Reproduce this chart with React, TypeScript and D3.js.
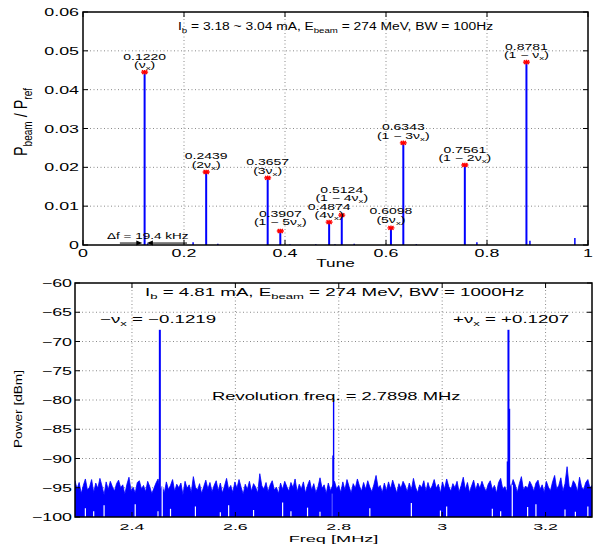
import React from 'react';
import * as d3 from 'd3';

const FONT = '"Liberation Sans", Arial, Helvetica, sans-serif';
const BLUE = '#0000ff';

// ---------- top panel data ----------
const topXTicks = [0, 0.2, 0.4, 0.6, 0.8, 1];
const topXTickLabels = ['0', '0.2', '0.4', '0.6', '0.8', '1'];
const topYTicks = [0, 0.01, 0.02, 0.03, 0.04, 0.05, 0.06];
const topYTickLabels = ['0', '0.01', '0.02', '0.03', '0.04', '0.05', '0.06'];

const peakTunes = [0.1220, 0.2439, 0.3657, 0.3907, 0.4874, 0.5124, 0.6098, 0.6343, 0.7561, 0.8781];
const peakAmps = [0.0445, 0.0188, 0.0173, 0.0036, 0.0059, 0.0077, 0.0044, 0.0263, 0.0206, 0.0471];
const peakOrders = ['', '2', '3', '1 − 5', '4', '1 − 4', '5', '1 − 3', '1 − 2', '1 − '];
const peakLabelLift = [0, 0, 0, 2, 0, 10, 1, 0, 0, 0];

const minorTunes = [0.128, 0.218, 0.267, 0.41, 0.461, 0.499, 0.537, 0.66, 0.780, 0.885, 0.974];
const minorAmps = [0.0004, 0.0007, 0.0003, 0.0002, 0.0002, 0.0002, 0.0003, 0.0002, 0.0007, 0.0011, 0.0018];

const dfArrowLeft = [0.073, 0.1175];
const dfArrowRight = [0.206, 0.1265];
const dfArrowLevel = 0.0005;

// ---------- bottom panel data ----------
const freqRange = [2.2898, 3.2898];
const botXTicks = [2.4, 2.6, 2.8, 3, 3.2];
const botXTickLabels = ['2.4', '2.6', '2.8', '3', '3.2'];
const botYTicks = [-100, -95, -90, -85, -80, -75, -70, -65, -60];
const botYTickLabels = ['−100', '−95', '−90', '−85', '−80', '−75', '−70', '−65', '−60'];

// noise-floor envelope (dBm), one value per sweep bin across the span
const noiseTop = [
  -93.8, -95.2, -94.1, -96.0, -94.6, -93.5, -95.4, -94.9, -93.6, -95.8, -94.2, -95.1, -93.4, -94.7, -96.2, -94.0, -95.3, -93.9, -94.8, -95.6, -94.3, -93.7, -95.0, -94.5, -96.1,
  -94.4, -93.2, -95.5, -94.9, -95.9, -94.1, -93.8, -95.2, -94.6, -95.7, -93.9, -94.8, -96.0, -95.1, -94.2, -93.5, -95.4, -94.7, -95.9, -94.0, -95.3, -94.6, -93.6, -95.6, -94.4,
  -95.0, -94.2, -96.2, -93.9, -95.1, -94.5, -95.8, -93.1, -94.9, -95.4, -94.3, -96.0, -94.8, -93.7, -95.2, -94.1, -95.7, -94.6, -93.8, -95.5, -94.2, -95.9, -94.7, -93.4, -95.3,
  -94.6, -95.8, -94.0, -95.1, -93.6, -94.9, -96.1, -94.4, -95.3, -93.9, -95.6, -94.3, -94.9, -95.9, -92.6, -94.7, -95.2, -94.1, -95.7, -94.5, -93.8, -95.4, -94.9, -96.0, -94.2,
  -95.3, -93.9, -94.8, -95.6, -94.1, -95.0, -93.5, -95.7, -94.4, -95.2, -94.0, -95.9, -94.6, -93.7, -95.4, -94.3, -95.8, -94.9, -93.3, -95.1, -94.5, -96.0, -94.2, -95.5, -94.7,
  -93.9, -95.2, -94.6, -95.8, -94.0, -95.4, -93.6, -94.8, -95.9, -94.3, -95.1, -93.5, -94.7, -95.6, -94.1, -95.3, -93.8, -94.9, -95.7, -94.4, -92.9, -95.0, -94.6, -95.8, -94.2,
  -95.5, -94.0, -95.2, -93.7, -94.8, -95.9, -94.3, -95.1, -93.9, -94.6, -95.7, -94.2, -95.4, -93.4, -94.9, -95.8, -94.5, -95.0, -93.8, -95.6, -94.1, -95.3, -94.7, -93.6, -95.1,
  -94.4, -95.9, -94.0, -95.2, -93.5, -94.8, -95.6, -94.3, -95.0, -93.9, -95.7, -94.6, -93.2, -95.3, -94.1, -95.8, -94.7, -93.7, -95.4, -94.2, -95.1, -93.9, -94.9, -95.6, -94.4,
  -93.8, -95.3, -94.6, -95.9, -94.1, -93.4, -95.2, -94.8, -95.7, -94.0, -95.0, -93.6, -94.5, -95.8, -94.3, -93.1, -95.4, -94.7, -95.1, -93.9, -94.6, -95.6, -94.2, -93.7, -95.3,
  -94.5, -95.8, -93.9, -94.9, -95.5, -94.0, -92.9, -95.2, -94.6, -93.3, -95.6, -94.3, -91.4, -94.8, -95.1, -93.8, -94.4, -95.7, -93.2, -94.9, -95.3, -94.1, -93.6, -95.0, -94.6,
];
// bins whose minimum stays above the -100 dBm floor: [bin index, minimum level]
const noiseDips = [
  [5, -98.5], [9, -99], [14, -98], [29, -97.8], [40, -99], [42, -94.5], [46, -98.6], [58, -98.2], [70, -99.2], [74, -98],
  [86, -98.8], [100, -97.5], [104, -99], [112, -98.4], [118, -99.1], [124, -96], [142, -98.5], [162, -97.6], [176, -98.9],
  [179, -98.2], [201, -98.6], [205, -99], [210.6, -94.5], [218, -98.3], [222, -97.8], [236, -98.7], [241, -99.1], [247, -98.2],
];
const spikeFreqs = [2.4539, 2.7888, 2.7900, 3.1262, 3.1282, 3.1302];
const spikeLevels = [-68, -89.5, -80.3, -90.5, -68, -81.5];

// ---------- layout ----------
const W = 595, H = 544;
const tp = { l: 83, r: 588, t: 12, b: 245 };
const bp = { l: 75, r: 592, t: 283, b: 517 };

function Txt({ x, y, size, sx = 1, sy = 1, anchor = 'start', rot = false, children }: any) {
  return (
    <text
      transform={`translate(${x},${y})${rot ? ' rotate(-90)' : ''} scale(${sx},${sy})`}
      fontSize={size}
      textAnchor={anchor}
      fontFamily={FONT}
      fill="#000"
    >
      {children}
    </text>
  );
}

function Frame({ p, xs, ys, xTicks, yTicks }: any) {
  const tl = 5;
  return (
    <g>
      <rect x={p.l} y={p.t} width={p.r - p.l} height={p.b - p.t} fill="none" stroke="#000" strokeWidth={1.5} />
      {xTicks.map((t: number, i: number) => (
        <g key={'xt' + i}>
          <line x1={xs(t)} x2={xs(t)} y1={p.b} y2={p.b - tl} stroke="#000" strokeWidth={1} />
          <line x1={xs(t)} x2={xs(t)} y1={p.t} y2={p.t + tl} stroke="#000" strokeWidth={1} />
        </g>
      ))}
      {yTicks.map((t: number, i: number) => (
        <g key={'yt' + i}>
          <line x1={p.l} x2={p.l + tl} y1={ys(t)} y2={ys(t)} stroke="#000" strokeWidth={1} />
          <line x1={p.r} x2={p.r - tl} y1={ys(t)} y2={ys(t)} stroke="#000" strokeWidth={1} />
        </g>
      ))}
    </g>
  );
}

function Grid({ p, xs, ys, xTicks, yTicks }: any) {
  const st = { stroke: '#8a8a8a', strokeWidth: 1, strokeDasharray: '1,2.5' };
  return (
    <g>
      {xTicks.filter((t: number) => xs(t) > p.l + 1 && xs(t) < p.r - 1).map((t: number, i: number) => (
        <line key={'gx' + i} x1={xs(t)} x2={xs(t)} y1={p.t} y2={p.b} {...st} />
      ))}
      {yTicks.filter((t: number) => ys(t) > p.t + 1 && ys(t) < p.b - 1).map((t: number, i: number) => (
        <line key={'gy' + i} x1={p.l} x2={p.r} y1={ys(t)} y2={ys(t)} {...st} />
      ))}
    </g>
  );
}

export default function App() {
  const xT = d3.scaleLinear().domain([0, 1]).range([tp.l, tp.r]);
  const yT = d3.scaleLinear().domain([0, 0.06]).range([tp.b, tp.t]);
  const xB = d3.scaleLinear().domain(freqRange).range([bp.l, bp.r]);
  const yB = d3.scaleLinear().domain([-100, -60]).range([bp.b, bp.t]);

  const step = (freqRange[1] - freqRange[0]) / (noiseTop.length - 1);
  const binF = (i: number) => freqRange[0] + i * step;
  const noiseArea = d3.area<number>()
    .x((_, i) => xB(binF(i)))
    .y0(yB(-100))
    .y1((d) => yB(d))(noiseTop) || '';

  const star = 'M-3.5,0H3.5M0,-2.3V2.3M-2.6,-1.9L2.6,1.9M-2.6,1.9L2.6,-1.9';
  const ay = yT(dfArrowLevel);

  return (
    <svg width={W} height={H} style={{ position: 'absolute', left: 0, top: 0, background: '#fff' }}>
      <defs>
        <clipPath id="clipB">
          <rect x={bp.l} y={bp.t} width={bp.r - bp.l} height={bp.b - bp.t} />
        </clipPath>
      </defs>
      <rect x={0} y={0} width={W} height={H} fill="#fff" />

      {/* ================= TOP PANEL ================= */}
      <Grid p={tp} xs={xT} ys={yT} xTicks={topXTicks} yTicks={topYTicks} />
      {minorTunes.map((t, i) => (
        <line key={'mn' + i} x1={xT(t)} x2={xT(t)} y1={yT(0)} y2={yT(minorAmps[i])} stroke={BLUE} strokeWidth={1.5} />
      ))}
      {peakTunes.map((t, i) => (
        <line key={'st' + i} x1={xT(t)} x2={xT(t)} y1={yT(0)} y2={yT(peakAmps[i])} stroke={BLUE} strokeWidth={2} />
      ))}
      {peakTunes.map((t, i) => (
        <path key={'mk' + i} d={star} transform={`translate(${xT(t)},${yT(peakAmps[i])})`} stroke="#ff0000" strokeWidth={1.3} fill="none" />
      ))}
      {peakTunes.map((t, i) => {
        const y0 = yT(peakAmps[i]) - peakLabelLift[i];
        return (
          <g key={'lb' + i}>
            <Txt x={xT(t)} y={y0 - 12.5} size={10} sx={1.4} sy={0.88} anchor="middle">{t.toFixed(4)}</Txt>
            <Txt x={xT(t)} y={y0 - 4} size={10} sx={1.4} sy={0.88} anchor="middle">
              <tspan>{'(' + peakOrders[i] + 'ν'}</tspan>
              <tspan dy={2.5} fontSize={7}>x</tspan>
              <tspan dy={-2.5}>)</tspan>
            </Txt>
          </g>
        );
      })}
      {/* delta f annotation */}
      <line x1={xT(dfArrowLeft[0])} x2={xT(dfArrowLeft[1]) - 5} y1={ay} y2={ay} stroke="#555" strokeWidth={1.5} />
      <path d={`M${xT(dfArrowLeft[1])},${ay}L${xT(dfArrowLeft[1]) - 6},${ay - 2.5}L${xT(dfArrowLeft[1]) - 6},${ay + 2.5}Z`} fill="#000" />
      <line x1={xT(dfArrowRight[0])} x2={xT(dfArrowRight[1]) + 5} y1={ay} y2={ay} stroke="#000" strokeWidth={1} />
      <path d={`M${xT(dfArrowRight[1])},${ay}L${xT(dfArrowRight[1]) + 6},${ay - 2.5}L${xT(dfArrowRight[1]) + 6},${ay + 2.5}Z`} fill="#000" />
      <Txt x={107} y={239} size={10} sx={1.35} sy={0.9}>Δf = 19.4 kHz</Txt>

      <Frame p={tp} xs={xT} ys={yT} xTicks={topXTicks} yTicks={topYTicks} />
      {topXTicks.map((t, i) => (
        <Txt key={'txl' + i} x={xT(t)} y={257} size={10.5} sx={1.7} anchor="middle">{topXTickLabels[i]}</Txt>
      ))}
      {topYTicks.map((t, i) => (
        <Txt key={'tyl' + i} x={79} y={yT(t) + 4} size={10.5} sx={1.7} anchor="end">{topYTickLabels[i]}</Txt>
      ))}
      <Txt x={178} y={30} size={10} sx={1.38}>
        <tspan>I</tspan>
        <tspan dy={3} fontSize={7}>b</tspan>
        <tspan dy={-3}>{' = 3.18 ~ 3.04 mA, E'}</tspan>
        <tspan dy={3} fontSize={7}>beam</tspan>
        <tspan dy={-3}>{' = 274 MeV, BW = 100Hz'}</tspan>
      </Txt>
      <Txt x={(tp.l + tp.r) / 2} y={267} size={11} sx={1.56} sy={0.92} anchor="middle">Tune</Txt>
      <Txt x={27} y={122} size={12} sx={1.2} sy={1.5} anchor="middle" rot>
        <tspan>P</tspan>
        <tspan dy={3} fontSize={8.4}>beam</tspan>
        <tspan dy={-3}>{' / P'}</tspan>
        <tspan dy={3} fontSize={8.4}>ref</tspan>
      </Txt>

      {/* ================= BOTTOM PANEL ================= */}
      <Grid p={bp} xs={xB} ys={yB} xTicks={botXTicks} yTicks={botYTicks} />
      <g clipPath="url(#clipB)">
        <path d={noiseArea} fill={BLUE} stroke={BLUE} strokeWidth={0.8} />
        {noiseDips.map((d, i) => (
          <line key={'dp' + i} x1={xB(binF(d[0]))} x2={xB(binF(d[0]))} y1={yB(-100)} y2={yB(d[1])} stroke="#fff" strokeWidth={1.2} />
        ))}
        {spikeFreqs.map((f, i) => (
          <line key={'sp' + i} x1={xB(f)} x2={xB(f)} y1={yB(-100)} y2={yB(spikeLevels[i])} stroke={BLUE} strokeWidth={spikeLevels[i] > -70 ? 2 : 1.4} />
        ))}
      </g>
      <Frame p={bp} xs={xB} ys={yB} xTicks={botXTicks} yTicks={botYTicks} />
      {botXTicks.map((t, i) => (
        <Txt key={'bxl' + i} x={xB(t)} y={529.5} size={10.5} sx={1.7} sy={0.92} anchor="middle">{botXTickLabels[i]}</Txt>
      ))}
      {botYTicks.map((t, i) => (
        <Txt key={'byl' + i} x={72} y={yB(t) + 4} size={10.5} sx={1.7} anchor="end">{botYTickLabels[i]}</Txt>
      ))}
      <Txt x={145} y={296} size={11} sx={1.7}>
        <tspan>I</tspan>
        <tspan dy={3} fontSize={7.7}>b</tspan>
        <tspan dy={-3}>{' = 4.81 mA, E'}</tspan>
        <tspan dy={3} fontSize={7.7}>beam</tspan>
        <tspan dy={-3}>{' = 274 MeV, BW = 1000Hz'}</tspan>
      </Txt>
      <Txt x={100} y={323} size={11} sx={1.7}>
        <tspan>−ν</tspan>
        <tspan dy={3} fontSize={7.7}>x</tspan>
        <tspan dy={-3}>{' = −0.1219'}</tspan>
      </Txt>
      <Txt x={453} y={323} size={11} sx={1.7}>
        <tspan>+ν</tspan>
        <tspan dy={3} fontSize={7.7}>x</tspan>
        <tspan dy={-3}>{' = +0.1207'}</tspan>
      </Txt>
      <Txt x={212} y={400} size={11} sx={1.67}>Revolution freq. = 2.7898 MHz</Txt>
      <Txt x={(bp.l + bp.r) / 2} y={542} size={11} sx={1.65} sy={0.88} anchor="middle">Freq [MHz]</Txt>
      <Txt x={22} y={409} size={11} sx={1.24} sy={1} anchor="middle" rot>Power [dBm]</Txt>
    </svg>
  );
}
